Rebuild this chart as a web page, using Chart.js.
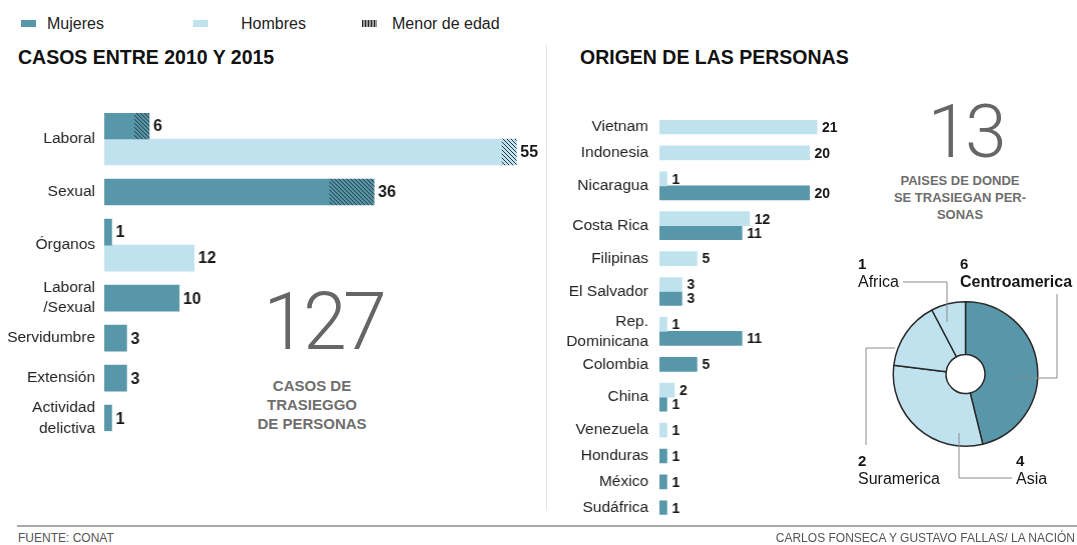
<!DOCTYPE html>
<html>
<head>
<meta charset="utf-8">
<script src="https://cdn.jsdelivr.net/npm/chart.js@4.4.1/dist/chart.umd.min.js"></script>
<style>
  body{margin:0;width:1077px;height:545px;background:#fff;position:relative;overflow:hidden;font-family:"Liberation Sans",Arial,sans-serif;color:#1a1a1a}
  .a{position:absolute;white-space:nowrap;line-height:1}
  .sw{position:absolute;height:7px;top:20px}
  .lg{font-size:16px;top:15.5px;color:#222}
  .title{font-size:19.5px;font-weight:bold;top:48px;color:#111}
  .big{font-family:Roboto,"Open Sans",sans-serif;font-weight:300;color:#666;transform:translateX(-50%);letter-spacing:-4px}
  .cap{font-weight:bold;color:#6e6e6e;text-align:center;transform:translateX(-50%)}
  .foot{font-size:12px;color:#555;top:532px}
  .box{position:absolute}
</style>
</head>
<body>
<div class="sw" style="left:21px;width:15px;background:#5797a9"></div>
<div class="a lg" style="left:47px">Mujeres</div>
<div class="sw" style="left:193px;width:15px;background:#c0e2ee"></div>
<div class="a lg" style="left:241px">Hombres</div>
<div class="sw" style="left:362px;width:15px;background:repeating-linear-gradient(90deg,#2a2a2a 0 1.5px,#9a9a9a 1.5px 3px)"></div>
<div class="a lg" style="left:392px">Menor de edad</div>

<div class="a title" style="left:18px">CASOS ENTRE 2010 Y 2015</div>
<div class="a title" style="left:580px">ORIGEN DE LAS PERSONAS</div>
<div style="position:absolute;left:546px;top:45px;width:1px;height:465px;background:#e4e4e4"></div>

<div class="a big" style="left:323px;top:283px;font-size:79px">127</div>
<div class="a cap" style="left:312px;top:376px;font-size:15px;line-height:19px">CASOS DE<br>TRASIEGGO<br>DE PERSONAS</div>
<div class="a big" style="left:965px;top:94px;font-size:75px">13</div>
<div class="a cap" style="left:960px;top:172px;font-size:13px;line-height:17px">PAISES DE DONDE<br>SE TRASIEGAN PER-<br>SONAS</div>

<div class="box" id="leftBox"><canvas id="casos"></canvas></div>
<div class="box" id="midBox"><canvas id="origen"></canvas></div>
<div class="box" id="pieBox" style="left:840px;top:250px;width:237px;height:250px"><canvas id="regiones"></canvas></div>

<div style="position:absolute;left:17px;top:525px;width:1060px;height:2px;background:#a9a9a9"></div>
<div class="a foot" style="left:18px">FUENTE: CONAT</div>
<div class="a foot" style="right:2px">CARLOS FONSECA Y GUSTAVO FALLAS/ LA NACIÓN</div>

<script>
// casos entre 2010 y 2015 (total per sex, and the part of it that are minors)
const casosCats = ['Laboral', 'Sexual', 'Órganos', ['Laboral', '/Sexual'], 'Servidumbre', 'Extensión', ['Actividad', 'delictiva']];
const casosMujeres = [6, 36, 1, 10, 3, 3, 1];
const casosHombres = [55, null, 12, null, null, null, null];
const menorMujeres = [2, 6, null, null, null, null, null];
const menorHombres = [2, null, null, null, null, null, null];

// origen de las personas
const paises = ['Vietnam', 'Indonesia', 'Nicaragua', 'Costa Rica', 'Filipinas', 'El Salvador', ['Rep.', 'Dominicana'], 'Colombia', 'China', 'Venezuela', 'Honduras', 'México', 'Sudáfrica'];
const paisHombres = [21, 20, 1, 12, 5, 3, 1, null, 2, 1, null, null, null];
const paisMujeres = [null, null, 20, 11, null, 3, 11, 5, 1, null, 1, 1, 1];

// paises por region
const regiones = ['Centroamerica', 'Asia', 'Suramerica', 'Africa'];
const regionPaises = [6, 4, 2, 1];

const TEAL = '#5797a9', LIGHT = '#c0e2ee';
const PX = 7.48;   // px per case, same on both bar charts
const PAD = 40;
const FONT = '"Liberation Sans", Arial, sans-serif';

function hatch(base){
  const c = document.createElement('canvas'); c.width = c.height = 4;
  const g = c.getContext('2d');
  g.fillStyle = base; g.fillRect(0, 0, 4, 4);
  g.strokeStyle = 'rgba(25,40,50,0.9)'; g.lineWidth = 1;
  g.beginPath(); g.moveTo(-1, -1); g.lineTo(5, 5); g.moveTo(-1, 3); g.lineTo(1, 5); g.moveTo(3, -1); g.lineTo(5, 1); g.stroke();
  return g.createPattern(c, 'repeat');
}

// row centres: each category takes as many bar rows as it has bars, plus a gap
function rows(series, gap){
  const n = series[0].map((_, i) => series.filter(s => s[i] != null).length);
  const pos = [0];
  for (let i = 1; i < n.length; i++) pos.push(pos[i-1] + (n[i-1] + n[i]) / 2 + gap);
  return {pos, min: -n[0] / 2, max: pos[pos.length-1] + n[n.length-1] / 2};
}
const pts = (vals, pos) => vals.map((v, i) => ({x: v, y: pos[i]}));
const minus = (tot, part) => tot.map((v, i) => v == null ? null : v - (part[i] || 0));

const valueLabels = {
  id: 'valueLabels',
  afterDatasetsDraw(chart, args, o){
    const ctx = chart.ctx, xs = chart.scales.x;
    ctx.save();
    ctx.font = o.font; ctx.fillStyle = '#161616'; ctx.textBaseline = 'middle';
    o.totals.forEach(t => {
      const meta = chart.getDatasetMeta(t.ds);
      t.values.forEach((v, i) => {
        if (v == null) return;
        ctx.fillText(v, xs.getPixelForValue(v) + o.gap, meta.data[i].y + 1);
      });
    });
    ctx.restore();
  }
};

function barChart(id, box, cats, lay, datasets, o){
  const el = document.getElementById(box);
  el.style.left = o.left + 'px';
  el.style.top = (o.top - PAD) + 'px';
  el.style.width = (o.axisW + o.xmax * PX) + 'px';
  el.style.height = (2 * PAD + o.unit * (lay.max - lay.min)) + 'px';
  return new Chart(document.getElementById(id), {
    type: 'bar',
    data: {datasets: datasets.map(d => Object.assign({barThickness: o.unit, skipNull: true, borderWidth: 0}, d))},
    options: {
      indexAxis: 'y', responsive: true, maintainAspectRatio: false, animation: false,
      layout: {padding: {top: PAD, bottom: PAD, left: 0, right: 0}},
      plugins: {legend: {display: false}, tooltip: {enabled: false}, valueLabels: o.labels},
      scales: {
        x: {type: 'linear', display: false, stacked: true, min: 0, max: o.xmax},
        y: {
          type: 'linear', reverse: true, offset: false, min: lay.min, max: lay.max, bounds: 'data',
          grid: {display: false, drawTicks: false}, border: {display: false},
          afterBuildTicks: ax => { ax.ticks = lay.pos.map(v => ({value: v})); },
          afterFit: ax => { ax.width = o.axisW; },
          ticks: {autoSkip: false, padding: o.tickPad, color: '#222', font: {family: FONT, size: 15.5, lineHeight: 1.3},
                  callback: (v, i) => cats[i]}
        }
      }
    },
    plugins: [valueLabels]
  });
}

const layCasos = rows([casosMujeres, casosHombres], 0.54);
barChart('casos', 'leftBox', casosCats, layCasos, [
  {label: 'Mujeres', stack: 'm', data: pts(minus(casosMujeres, menorMujeres), layCasos.pos), backgroundColor: TEAL},
  {label: 'Menor de edad', stack: 'm', data: pts(menorMujeres, layCasos.pos), backgroundColor: hatch(TEAL)},
  {label: 'Hombres', stack: 'h', data: pts(minus(casosHombres, menorHombres), layCasos.pos), backgroundColor: LIGHT},
  {label: 'Menor de edad', stack: 'h', data: pts(menorHombres, layCasos.pos), backgroundColor: hatch(LIGHT)}
], {left: 0, top: 112.5, axisW: 104, tickPad: 9, unit: 26, xmax: 58,
    labels: {font: 'bold 16px ' + FONT, gap: 4, totals: [{ds: 0, values: casosMujeres}, {ds: 2, values: casosHombres}]}});

const layOrigen = rows([paisHombres, paisMujeres], 0.85);
barChart('origen', 'midBox', paises, layOrigen, [
  {label: 'Hombres', stack: 'h', data: pts(paisHombres, layOrigen.pos), backgroundColor: LIGHT},
  {label: 'Mujeres', stack: 'm', data: pts(paisMujeres, layOrigen.pos), backgroundColor: TEAL}
], {left: 550, top: 119.7, axisW: 109, tickPad: 11, unit: 14, xmax: 24,
    labels: {font: 'bold 14px ' + FONT, gap: 5, totals: [{ds: 0, values: paisHombres}, {ds: 1, values: paisMujeres}]}});

// callout lines and labels around the ring, offsets from the ring centre
const callouts = {
  id: 'callouts',
  afterDraw(chart, args, o){
    const ctx = chart.ctx, a = chart.chartArea;
    const cx = (a.left + a.right) / 2, cy = (a.top + a.bottom) / 2;
    const ds = chart.data.datasets[0];
    ctx.save();
    ctx.strokeStyle = '#8a8a8a'; ctx.lineWidth = 1;
    o.items.forEach(it => {
      ctx.beginPath();
      it.path.forEach(([dx, dy], k) => k ? ctx.lineTo(cx + dx, cy + dy) : ctx.moveTo(cx + dx, cy + dy));
      ctx.stroke();
      ctx.fillStyle = '#161616'; ctx.textBaseline = 'alphabetic';
      ctx.font = 'bold 15px ' + FONT;
      ctx.fillText(ds.data[it.i], cx + it.x, cy + it.y);
      ctx.font = (it.bold ? 'bold ' : '') + '16px ' + FONT;
      ctx.fillText(chart.data.labels[it.i], cx + it.x, cy + it.y + 17.5);
    });
    ctx.restore();
  }
};

new Chart(document.getElementById('regiones'), {
  type: 'doughnut',
  data: {labels: regiones, datasets: [{data: regionPaises, backgroundColor: [TEAL, LIGHT, LIGHT, LIGHT], borderColor: '#2a2a2a', borderWidth: 1.5}]},
  options: {
    responsive: true, maintainAspectRatio: false, animation: false, cutout: '27%',
    layout: {padding: {left: 52, right: 38, top: 51, bottom: 53}},
    plugins: {legend: {display: false}, tooltip: {enabled: false},
      callouts: {items: [
        {i: 3, x: -107.5, y: -105, path: [[-62.5, -92], [-18.5, -92], [-18.5, -52]]},
        {i: 0, x: -5.5, y: -105, bold: true, path: [[91.5, -80], [91.5, 4], [51.5, 4]]},
        {i: 2, x: -107.5, y: 92, path: [[-70.5, -26], [-99.5, -26], [-99.5, 71]]},
        {i: 1, x: 50.5, y: 92, path: [[-6.5, 59], [-6.5, 104], [46.5, 104]]}
      ]}}
  },
  plugins: [callouts]
});
</script>
</body>
</html>
